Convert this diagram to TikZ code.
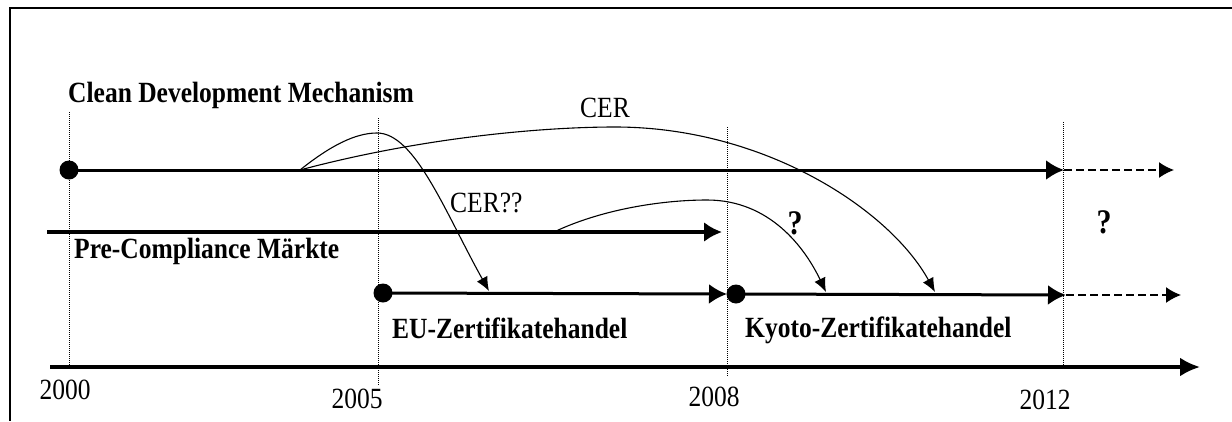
\documentclass[tikz,border=0pt]{standalone}
\usepackage{fontspec}
\setmainfont{Liberation Serif}
\usetikzlibrary{arrows.meta}
\newcommand{\tallt}[1]{\scalebox{1}[1.15]{#1}}
\begin{document}
\begin{tikzpicture}[x=1pt,y=-1pt,
  lbl/.style={font=\fontsize{25.5}{28}\selectfont, inner sep=0pt},
  blbl/.style={font=\fontsize{25.5}{28}\selectfont\bfseries, inner sep=0pt},
  qlbl/.style={font=\fontsize{30}{32}\selectfont\bfseries, inner sep=0pt},
  frame/.style={line width=1.3pt},
  vdot/.style={line width=0.9pt, dash pattern=on 1pt off 1pt},
  main/.style={line width=3pt, -{Latex[length=18pt,width=20pt]}},
  pre/.style={line width=4.5pt, -{Latex[length=18pt,width=20pt]}},
  axis/.style={line width=3.5pt, -{Latex[length=20pt,width=19pt]}},
  future/.style={line width=1.5pt, dash pattern=on 8pt off 4pt, -{Latex[length=15pt,width=16pt]}},
  flow/.style={line width=1.1pt, -{Latex[length=14pt,width=12pt]}},
  dot/.style={circle, fill=black, inner sep=0pt, minimum size=19pt}
]
\useasboundingbox (0,0) rectangle (1232,421);
\fill[white] (0,0) rectangle (1232,421);

% frame
\coordinate (fTR) at (1232,8);
\coordinate (fTL) at (10,8);
\coordinate (fBL) at (10,421);
\draw[frame] (fTR) -- (fTL) -- (fBL);

% dotted year lines
\coordinate (v00a) at (69,112);  \coordinate (v00b) at (69,367);
\coordinate (v05a) at (378,118); \coordinate (v05b) at (378,385);
\coordinate (v08a) at (727,127); \coordinate (v08b) at (727,377);
\coordinate (v12a) at (1063,122);\coordinate (v12b) at (1063,367);
\draw[vdot] (v00a) -- (v00b);
\draw[vdot] (v05a) -- (v05b);
\draw[vdot] (v08a) -- (v08b);
\draw[vdot] (v12a) -- (v12b);

% CDM
\node[dot] (cdm) at (69,170) {};
\coordinate (cdmEnd) at (1064,170);
\coordinate (cdmFut) at (1174,170);
\draw[main] (cdm.center) -- (cdmEnd);
\draw[future] (cdmEnd) -- (cdmFut);

% Pre-compliance
\coordinate (preStart) at (47,232);
\coordinate (preEnd) at (722,232);
\draw[pre] (preStart) -- (preEnd);

% EU
\node[dot] (eu) at (383,293) {};
\coordinate (euEnd) at (727,294);
\draw[main] (eu.center) -- (euEnd);

% Kyoto
\node[dot] (ky) at (736,294) {};
\coordinate (kyEnd) at (1066,295);
\coordinate (kyFut) at (1181,295);
\draw[main] (ky.center) -- (kyEnd);
\draw[future] (kyEnd) -- (kyFut);

% time axis
\coordinate (axStart) at (50,367);
\coordinate (axEnd) at (1200,367);
\draw[axis] (axStart) -- (axEnd);

% flows
\coordinate (src) at (300,170);
\coordinate (cerPeak) at (615,127);
\coordinate (cerTip) at (935,292);
\draw[flow] (src) .. controls (420,138) and (540,127) .. (cerPeak)
            .. controls (765,127) and (890,210) .. (cerTip);

\coordinate (cqPeak) at (377,133);
\coordinate (cqTip) at (489,291);
\draw[flow] (src) .. controls (330,146) and (355,133) .. (cqPeak)
            .. controls (415,133) and (445,212) .. (cqTip);

\coordinate (pqStart) at (554,232);
\coordinate (pqPeak) at (707,200);
\coordinate (pqTip) at (826,292);
\draw[flow] (pqStart) .. controls (600,210) and (660,200) .. (pqPeak)
            .. controls (770,200) and (805,248) .. (pqTip);

% labels
\node[blbl, anchor=base west] (tCDM) at (68,102) {\tallt{Clean Development Mechanism}};
\node[lbl, anchor=base] (tCER) at (605,117) {\tallt{CER}};
\node[lbl, anchor=base west] (tCERq) at (450,212) {\tallt{CER??}};
\node[qlbl] (tq1) at (795,223) {\tallt{?}};
\node[qlbl] (tq2) at (1104,222) {\tallt{?}};
\node[blbl, anchor=base west] (tPre) at (74,258) {\tallt{Pre-Compliance Märkte}};
\node[blbl, anchor=base west] (tEU) at (392,338) {\tallt{EU-Zertifikatehandel}};
\node[blbl, anchor=base west] (tKy) at (745,337) {\tallt{Kyoto-Zertifikatehandel}};

\node[lbl, anchor=base] (y00) at (65,399) {\tallt{2000}};
\node[lbl, anchor=base] (y05) at (357,408) {\tallt{2005}};
\node[lbl, anchor=base] (y08) at (714,406) {\tallt{2008}};
\node[lbl, anchor=base] (y12) at (1045,409) {\tallt{2012}};
\end{tikzpicture}
\end{document}
